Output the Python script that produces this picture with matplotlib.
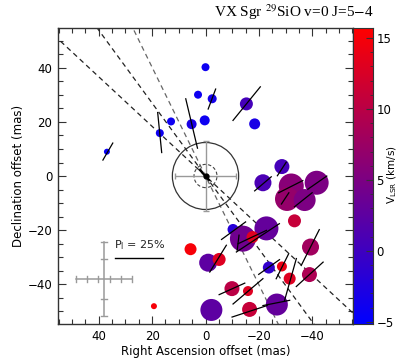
import numpy as np
import matplotlib
matplotlib.use("Agg")
import matplotlib.pyplot as plt
from matplotlib.colors import LinearSegmentedColormap, Normalize
from matplotlib.patches import Circle
from matplotlib.ticker import MultipleLocator

# ---------------- data ----------------
spot_x = [36.9, 17.1, 12.9, 5.2, 0.3, 2.8, 0.0, -2.5, -15.3, -18.4, -28.6, -21.5,
          -32.1, -41.6, -30.5, -37.1, -33.3, -10.3, -22.8, -14.0, -17.6, 5.6, -1.0,
          -5.1, -39.3, -23.7, -28.6, -31.5, -38.9, -9.9, -15.9, -16.5, -26.7, -2.2, 19.3]
spot_y = [9.0, 15.9, 20.2, 19.2, 20.6, 30.1, 40.3, 28.6, 26.7, 19.3, 3.5, -2.5,
          -3.7, -2.5, -8.5, -8.9, -16.6, -19.8, -19.4, -23.2, -22.6, -27.1, -32.1,
          -30.9, -26.3, -33.9, -33.5, -38.0, -36.5, -41.7, -42.6, -49.4, -47.6, -49.6, -48.2]
spot_diam = [6, 8, 8, 10, 10, 8, 8, 9, 13, 11, 15, 17,
             25, 24, 24, 22, 13, 11, 24, 26, 12, 12, 18,
             13, 17, 12, 10, 12, 15, 15, 10, 15, 22, 22, 6]
spot_vel = [-4.5, -4.0, -4.0, -3.0, -4.0, -4.0, -4.0, -3.5, 0.5, -3.0, 0.5, 1.0,
            6.0, 5.0, 7.0, 5.0, 11.0, -2.0, 3.0, 4.0, 13.0, 15.0, 2.5,
            13.0, 8.0, -1.0, 14.0, 13.0, 9.0, 10.0, 13.0, 11.0, 3.0, 2.5, 15.0]

vec_x = [36.55, 17.15, 5.2, -2.4, -15.4, -28.55, -21.5, -31.9, -41.85, -29.8, -36.6,
         -10.5, -19.6, -17.5, -12.2, -4.7, -39.2, -39.0, -28.8, -31.8, -23.8, -9.9,
         -15.9, -16.5, -26.5]
vec_y = [9.05, 16.1, 19.45, 28.5, 26.8, 2.6, -2.9, -3.95, -2.45, -8.3, -8.8,
         -20.25, -22.9, -22.6, -24.7, -30.6, -26.5, -36.4, -33.4, -38.3, -33.7, -41.8,
         -42.7, -50.1, -47.0]
vec_len = [7.3, 14.9, 18.8, 7.9, 16.1, 6.0, 8.1, 10.1, 8.6, 5.0, 8.4,
           11.1, 19.2, 11.7, 5.6, 11.7, 14.9, 13.5, 10.4, 16.1, 9.5, 10.5,
           14.6, 13.8, 10.2]
vec_pa = [-30.4, 5.8, 13.5, -20.7, -39.4, -33.4, -50.0, -63.4, -55.4, -33.7, -51.8,
          -54.2, -56.9, -65.0, -7.0, -32.0, -27.0, -48.0, -26.8, -15.9, -55.0, -66.0,
          -50.0, -72.0, -79.0]

line_pa = [47.4, 36.5, 26.4]
line_colors = ["#222222", "#222222", "#666666"]

xticks = [40, 20, 0, -20, -40]
yticks = [-40, -20, 0, 20, 40]
cbar_ticks = [-5, 0, 5, 10, 15]
vmin, vmax = -5.15, 15.7

# ---------------- figure ----------------
fig = plt.figure(figsize=(3.99, 3.61), dpi=100)
ax = fig.add_axes([0.1454, 0.1025, 0.7393, 0.8199])
cax = fig.add_axes([0.8847, 0.1025, 0.0501, 0.8199])

cmap = LinearSegmentedColormap.from_list("br", [(0, 0, 1), (1, 0, 0)])
norm = Normalize(vmin=vmin, vmax=vmax)

ax.set_xlim(55.2, -55.2)
ax.set_ylim(-54.8, 54.8)

# dashed lines through the centre
for pa, c in zip(line_pa, line_colors):
    r = 90
    dx, dy = r * np.sin(np.radians(pa)), r * np.cos(np.radians(pa))
    ax.plot([dx, -dx], [dy, -dy], color=c, lw=0.9, ls=(0, (4, 3)), zorder=2)

# centre symbol
ax.add_patch(Circle((0, 0), 12.4, fill=False, ec="#333333", lw=0.9, zorder=3))
ax.add_patch(Circle((0, 0), 4.3, fill=False, ec="#444444", lw=0.8, ls=(0, (3, 2)), zorder=3))
ax.errorbar([0], [0], xerr=[11.4], yerr=[13.1], fmt="none", ecolor="#999999",
            elinewidth=1.0, capsize=2.5, capthick=1.0, zorder=3)
ax.plot([2.1, -1.3], [2.2, -1.5], color="black", lw=1.5, zorder=6)
ax.plot([0], [0], "o", color="black", ms=3.5, zorder=6)

# maser spots
s = (np.array(spot_diam) * 0.72) ** 2
ax.scatter(spot_x, spot_y, s=s, c=spot_vel, cmap=cmap, norm=norm,
           edgecolors="none", zorder=4)

# polarization vectors
for x, y, L, pa in zip(vec_x, vec_y, vec_len, vec_pa):
    dx = 0.5 * L * np.sin(np.radians(pa))
    dy = 0.5 * L * np.cos(np.radians(pa))
    ax.plot([x - dx, x + dx], [y - dy, y + dy], color="black", lw=0.9, zorder=5)

# scale bar
ax.plot([33.9, 16.0], [-30.2, -30.2], color="black", lw=1.0, zorder=5)
ax.text(24.5, -28.2, r"P$_\mathrm{l}$ = 25%", ha="center", va="bottom",
        fontsize=8, color="#222222")

# error cross
ecx, ecy, ehx, ehy = 38.0, -38.2, 10.4, 13.6
gcol = "#9a9a9a"
ax.plot([ecx - ehx, ecx + ehx], [ecy, ecy], color=gcol, lw=1.1, zorder=3)
ax.plot([ecx, ecx], [ecy - ehy, ecy + ehy], color=gcol, lw=1.1, zorder=3)
for f in [-1, -0.6, -0.2, 0.2, 0.6, 1]:
    ax.plot([ecx + f * ehx] * 2, [ecy - 1.0, ecy + 1.0], color=gcol, lw=1.0, zorder=3)
for f in [-1, -0.53, 0.55, 1]:
    ax.plot([ecx - 1.0, ecx + 1.0], [ecy + f * ehy] * 2, color=gcol, lw=1.0, zorder=3)

# axes styling
ax.set_xticks(xticks)
ax.set_yticks(yticks)
ax.xaxis.set_minor_locator(MultipleLocator(5))
ax.yaxis.set_minor_locator(MultipleLocator(5))
ax.tick_params(which="both", direction="in", top=True, right=True, labelsize=8.5,
               color="#333333")
ax.tick_params(which="major", length=6, width=0.8, pad=4)
ax.tick_params(which="minor", length=3.5, width=0.8)
for sp in ax.spines.values():
    sp.set_linewidth(1.0)
    sp.set_color("#333333")
ax.set_xticklabels([f"{t}".replace("-", "\u2212") for t in xticks])
ax.set_yticklabels([f"{t}".replace("-", "\u2212") for t in yticks])
ax.set_xlabel("Right Ascension offset (mas)", fontsize=8.5, labelpad=2)
ax.set_ylabel("Declination offset (mas)", fontsize=8.5, labelpad=2)

# colorbar
grad = np.linspace(vmin, vmax, 256).reshape(-1, 1)
cax.imshow(grad, aspect="auto", origin="lower", cmap=cmap, norm=norm,
           extent=[0, 1, vmin, vmax])
cax.set_xlim(0, 1)
cax.set_ylim(vmin, vmax)
cax.set_xticks([])
cax.yaxis.tick_right()
cax.set_yticks(cbar_ticks)
cax.set_yticklabels([f"{t}".replace("-", "\u2212") for t in cbar_ticks])
cax.yaxis.set_minor_locator(MultipleLocator(1))
cax.tick_params(which="both", direction="in", labelsize=8.5, color="#333333")
cax.tick_params(which="major", length=5, pad=2.5)
cax.tick_params(which="minor", length=2.5)
for sp in cax.spines.values():
    sp.set_linewidth(0.8)
    sp.set_color("#333333")
fig.text(0.984, 0.515, r"V$_\mathrm{LSR}$ (km/s)", rotation=90, ha="center",
         va="center", fontsize=7.5)

# title
fig.text(0.937, 0.965, r"VX Sgr $^{29}$SiO v=0 J=5$-$4", ha="right", va="center",
         fontsize=11, family="Liberation Serif", math_fontfamily="stix")

fig.savefig("out.png", dpi=100)
